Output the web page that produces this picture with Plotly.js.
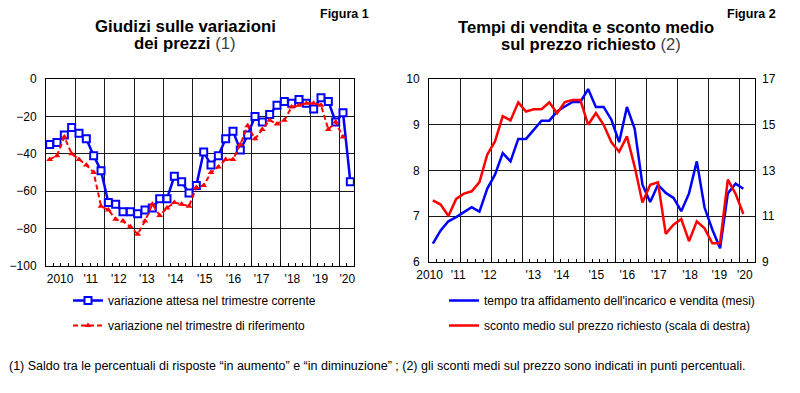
<!DOCTYPE html>
<html>
<head>
<meta charset="utf-8">
<script src="https://cdn.plot.ly/plotly-3.0.1.min.js"></script>
<style>html,body{margin:0;padding:0;background:#fff;}#chart{width:800px;height:393px;}</style>
</head>
<body>
<div id="chart"></div>
<script>
// ---------- DATA ----------
// quarterly periods (first quarter = 2010 Q1)
const startYear = 2010;
// Figura 1: saldo giudizi (quarterly, 2010Q1 ...)
const attesaCorrente = [-35,-34,-30,-26, -29,-32,-41,-49, -66,-67,-71,-71, -72,-70,-69,-64,
  -64,-52,-55,-61, -57,-39,-46,-41, -32,-28,-38,-30, -20,-23,-19,-14, -12,-13,-11,-13,
  -16,-10,-12,-23, -18,-55];
const trimestreRiferimento = [-43,-41,-31,-40, -43,-46,-50,-68, -70,-75,-76,-79, -83,-76,-67,-73,
  -69,-66,-67,-68, -58,-57,-50,-47, -43,-43,-35,-25, -32,-27,-22,-24, -22,-15,-14,-13,
  -13,-14,-27,-23, -31];
// Figura 2: tempi di vendita (mesi) and sconto medio (%)
const tempoVendita = [6.40,6.69,6.89,6.98, 7.09,7.20,7.10,7.60, 7.91,8.38,8.20,8.69, 8.69,8.89,9.09,9.09,
  9.29,9.40,9.50,9.50, 9.78,9.39,9.39,9.11, 8.62,9.39,8.91,7.69, 7.31,7.69,7.51,7.40,
  7.11,7.50,8.20,7.19, 6.71,6.30,7.50,7.71, 7.60];
const scontoMedio = [11.69,11.51,11.01,11.76, 11.99,12.09,12.49,13.69, 14.27,15.38,15.19,15.98,
  15.58,15.68,15.68,15.98, 15.50,15.99,16.08,16.08, 15.00,15.51,15.00,14.23, 13.82,14.49,13.16,11.60,
  12.38,12.48,10.23,10.63, 10.88,9.91,10.78,10.47, 9.82,9.82,12.60,11.98, 11.10];
// tick labels
const yearLabels = ["2010","'11","'12","'13","'14","'15","'16","'17","'18","'19","'20"];
const labelPosL = [2010.48,2011.53,2012.48,2013.44,2014.42,2015.41,2016.39,2017.35,2018.40,2019.35,2020.27];
const labelPosR = [2010.02,2010.94,2011.93,2013.36,2014.27,2015.39,2016.39,2017.40,2018.41,2019.35,2020.17];
const gridYears = [2011,2012,2013,2014,2015,2016,2017,2018,2019,2020];
const leftTicks = [-100,-80,-60,-40,-20,0];
const rightTicksL = [6,7,8,9,10];
const rightTicksR = [9,11,13,15,17];

// ---------- helpers ----------
function quarterPos(n){ const out=[]; for(let i=0;i<n;i++){ out.push(startYear + (i+0.5)/4); } return out; }

const FONT = "Liberation Sans, Arial, sans-serif";
const NARROW = "Liberation Sans Narrow, Arial Narrow, Liberation Sans, Arial, sans-serif";
const GRID = '#1a1a1a';
const BLUE = '#0000FF', RED = '#FF0000';

const traces = [
  {x: quarterPos(attesaCorrente.length), y: attesaCorrente, xaxis:'x', yaxis:'y', type:'scatter', mode:'lines+markers',
   name:'variazione attesa nel trimestre corrente', legend:'legend', legendgroup:'a',
   line:{color:BLUE, width:2.5}, marker:{symbol:'square', size:7, color:'#fff', line:{color:BLUE, width:2}}},
  {x: quarterPos(trimestreRiferimento.length), y: trimestreRiferimento, xaxis:'x', yaxis:'y', type:'scatter', mode:'lines+markers',
   name:'variazione nel trimestre di riferimento', legend:'legend', legendgroup:'b',
   line:{color:RED, width:2, dash:'5px,3px'}, marker:{symbol:'triangle-up', size:6, color:RED}},
  {x: quarterPos(tempoVendita.length), y: tempoVendita, xaxis:'x2', yaxis:'y3', type:'scatter', mode:'lines',
   name:"tempo tra affidamento dell'incarico e vendita (mesi)", legend:'legend2', legendgroup:'c',
   line:{color:BLUE, width:2.5}},
  {x: quarterPos(scontoMedio.length), y: scontoMedio, xaxis:'x2', yaxis:'y4', type:'scatter', mode:'lines',
   name:'sconto medio sul prezzo richiesto (scala di destra)', legend:'legend2', legendgroup:'d',
   line:{color:RED, width:2.5}},
  // empty carriers so that the year-label axes are drawn
  {x: [], y: [], xaxis:'x3', yaxis:'y', type:'scatter', mode:'markers', showlegend:false, hoverinfo:'skip'},
  {x: [], y: [], xaxis:'x4', yaxis:'y3', type:'scatter', mode:'markers', showlegend:false, hoverinfo:'skip'}
];

const W=800, H=393;
const px = v => v/W, py = v => 1 - v/H;

function mainX(domain, anchor){
  return {domain: domain, anchor: anchor, range:[2010,2020.5], autorange:false, tickmode:'array', tickvals: gridYears,
    showgrid:true, gridcolor:GRID, gridwidth:1, showticklabels:false, ticks:'inside', ticklen:5, tickcolor:'#000',
    showline:true, linecolor:'#000', linewidth:1, mirror:true, zeroline:false,
    minor:{tick0:2010, dtick:0.25, ticks:'inside', ticklen:3, tickcolor:'#000', showgrid:false}};
}
function labelX(over, anchor, pos){
  return {overlaying: over, anchor: anchor, side:'bottom', range:[2010,2020.5], autorange:false, tickmode:'array', tickvals: pos, ticktext: yearLabels,
    tickangle:0, showgrid:false, ticks:'', showline:false, zeroline:false, tickfont:{family:FONT, size:12, color:'#000'}, ticklabelstandoff:4};
}
function yAx(domain, anchor, range, vals, grid){
  return {domain: domain, anchor: anchor, range: range, autorange:false, tickmode:'array', tickvals: vals,
    showgrid: grid, gridcolor:GRID, gridwidth:1, showline: grid, linecolor:'#000', linewidth:1, mirror: grid,
    zeroline:false, ticks:'', tickfont:{family:FONT, size:12, color:'#000'}, ticklabelstandoff:6};
}

const leftDomX = [px(46), px(354)], rightDomX = [px(429), px(755)];
const leftDomY = [py(266), py(79)], rightDomY = [py(262), py(79)];

const layout = {
  width: W, height: H, margin:{l:0,r:0,t:0,b:0}, paper_bgcolor:'#fff', plot_bgcolor:'#fff',
  font:{family:FONT, color:'#000'},
  showlegend:true,
  xaxis: mainX(leftDomX, 'y'),
  xaxis2: mainX(rightDomX, 'y3'),
  xaxis3: labelX('x', 'y', labelPosL),
  xaxis4: labelX('x2', 'y3', labelPosR),
  yaxis: yAx(leftDomY, 'x', [-100,0], leftTicks, true),
  yaxis2: Object.assign(yAx(leftDomY, 'x', [-100,0], leftTicks, false), {overlaying:'y', side:'right'}),
  yaxis3: yAx(rightDomY, 'x2', [6,10], rightTicksL, true),
  yaxis4: Object.assign(yAx(rightDomY, 'x2', [9,17], rightTicksR, false), {overlaying:'y3', side:'right'}),
  legend: {x: px(68), y: py(286), xanchor:'left', yanchor:'top', bgcolor:'rgba(0,0,0,0)',
    font:{family:NARROW, size:12, color:'#000'}, traceorder:'grouped', tracegroupgap:6, itemwidth:30},
  legend2: {x: px(444), y: py(286), xanchor:'left', yanchor:'top', bgcolor:'rgba(0,0,0,0)',
    font:{family:NARROW, size:12, color:'#000'}, traceorder:'grouped', tracegroupgap:6, itemwidth:30},
  annotations: [
    {text:'<b>Giudizi sulle variazioni</b>', xref:'paper', yref:'paper', x:px(185), y:py(26), xanchor:'center', yanchor:'middle', showarrow:false, font:{family:FONT, size:16.8, color:'#000'}},
    {text:'<b>dei prezzi</b> <span style="color:#404040">(1)</span>', xref:'paper', yref:'paper', x:px(185), y:py(43), xanchor:'center', yanchor:'middle', showarrow:false, font:{family:FONT, size:16.8, color:'#000'}},
    {text:'<b>Tempi di vendita e sconto medio</b>', xref:'paper', yref:'paper', x:px(586), y:py(27), xanchor:'center', yanchor:'middle', showarrow:false, font:{family:FONT, size:16.6, color:'#000'}},
    {text:'<b>sul prezzo richiesto</b> <span style="color:#404040">(2)</span>', xref:'paper', yref:'paper', x:px(591), y:py(44), xanchor:'center', yanchor:'middle', showarrow:false, font:{family:FONT, size:16.6, color:'#000'}},
    {text:'<b>Figura 1</b>', xref:'paper', yref:'paper', x:px(344), y:py(14), xanchor:'center', yanchor:'middle', showarrow:false, font:{family:FONT, size:12.5, color:'#000'}},
    {text:'<b>Figura 2</b>', xref:'paper', yref:'paper', x:px(751), y:py(14), xanchor:'center', yanchor:'middle', showarrow:false, font:{family:FONT, size:12.5, color:'#000'}},
    {text:'(1) Saldo tra le percentuali di risposte \u201cin aumento\u201d e \u201cin diminuzione\u201d ; (2) gli sconti medi sul prezzo sono indicati in punti percentuali.',
     xref:'paper', yref:'paper', x:px(7), y:py(366), xanchor:'left', yanchor:'middle', showarrow:false, font:{family:NARROW, size:12.5, color:'#000'}}
  ]
};

Plotly.newPlot('chart', traces, layout, {staticPlot:true, displayModeBar:false});
</script>
</body>
</html>
